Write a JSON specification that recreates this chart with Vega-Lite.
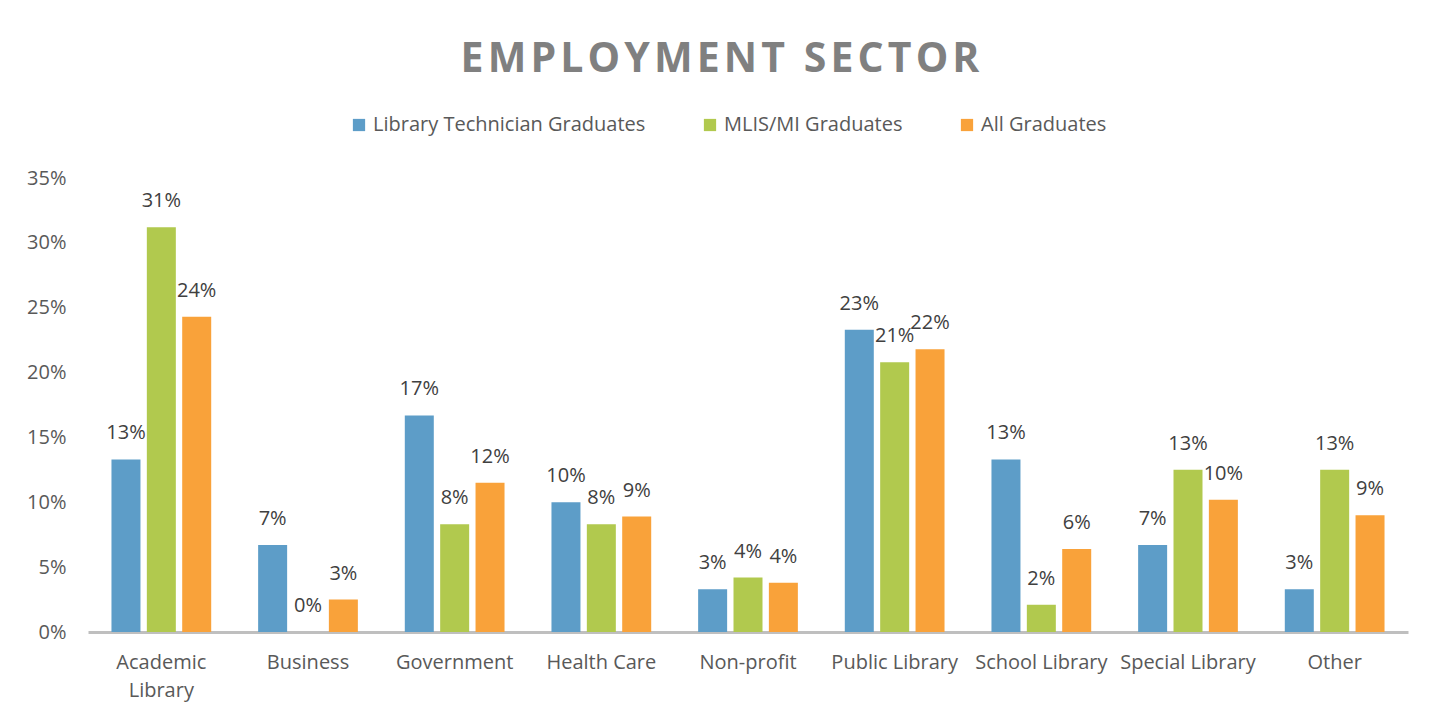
{
  "$schema": "https://vega.github.io/schema/vega-lite/v6.json",
  "autosize": "none",
  "width": 1320,
  "height": 454,
  "padding": {"left": 88, "top": 178, "right": 35, "bottom": 89},
  "background": "white",
  "title": {
    "text": "E\u200aM\u200aP\u200aL\u200aO\u200aY\u200aM\u200aE\u200aN\u200aT\u200a \u200aS\u200aE\u200aC\u200aT\u200aO\u200aR",
    "font": "Open Sans",
    "fontSize": 41,
    "fontWeight": "bold",
    "color": "#808080",
    "anchor": "middle",
    "offset": 34,
    "dx": -28
  },
  "data": {
    "values": [
      {"sector": "Academic Library", "group": "Library Technician Graduates", "value": 0.133},
      {"sector": "Academic Library", "group": "MLIS/MI Graduates", "value": 0.312},
      {"sector": "Academic Library", "group": "All Graduates", "value": 0.243},
      {"sector": "Business", "group": "Library Technician Graduates", "value": 0.067},
      {"sector": "Business", "group": "MLIS/MI Graduates", "value": 0.0},
      {"sector": "Business", "group": "All Graduates", "value": 0.025},
      {"sector": "Government", "group": "Library Technician Graduates", "value": 0.167},
      {"sector": "Government", "group": "MLIS/MI Graduates", "value": 0.083},
      {"sector": "Government", "group": "All Graduates", "value": 0.115},
      {"sector": "Health Care", "group": "Library Technician Graduates", "value": 0.1},
      {"sector": "Health Care", "group": "MLIS/MI Graduates", "value": 0.083},
      {"sector": "Health Care", "group": "All Graduates", "value": 0.089},
      {"sector": "Non-profit", "group": "Library Technician Graduates", "value": 0.033},
      {"sector": "Non-profit", "group": "MLIS/MI Graduates", "value": 0.042},
      {"sector": "Non-profit", "group": "All Graduates", "value": 0.038},
      {"sector": "Public Library", "group": "Library Technician Graduates", "value": 0.233},
      {"sector": "Public Library", "group": "MLIS/MI Graduates", "value": 0.208},
      {"sector": "Public Library", "group": "All Graduates", "value": 0.218},
      {"sector": "School Library", "group": "Library Technician Graduates", "value": 0.133},
      {"sector": "School Library", "group": "MLIS/MI Graduates", "value": 0.021},
      {"sector": "School Library", "group": "All Graduates", "value": 0.064},
      {"sector": "Special Library", "group": "Library Technician Graduates", "value": 0.067},
      {"sector": "Special Library", "group": "MLIS/MI Graduates", "value": 0.125},
      {"sector": "Special Library", "group": "All Graduates", "value": 0.102},
      {"sector": "Other", "group": "Library Technician Graduates", "value": 0.033},
      {"sector": "Other", "group": "MLIS/MI Graduates", "value": 0.125},
      {"sector": "Other", "group": "All Graduates", "value": 0.09}
    ]
  },
  "encoding": {
    "x": {
      "field": "sector",
      "type": "nominal",
      "sort": null,
      "scale": {"paddingInner": 0.32, "paddingOuter": 0.16},
      "axis": {
        "title": null,
        "labelAngle": 0,
        "labelFontSize": 20,
        "labelFont": "Open Sans",
        "labelColor": "#595959",
        "labelPadding": 20,
        "ticks": false,
        "domainColor": "#bfbfbf",
        "domainWidth": 3,
        "labelExpr": "datum.label == 'Academic Library' ? ['Academic', 'Library'] : datum.label",
        "labelLineHeight": 28
      }
    },
    "xOffset": {
      "field": "group",
      "type": "nominal",
      "sort": ["Library Technician Graduates", "MLIS/MI Graduates", "All Graduates"],
      "scale": {"paddingInner": 0.18, "paddingOuter": 0}
    },
    "y": {
      "field": "value",
      "type": "quantitative",
      "scale": {"domain": [0, 0.35]},
      "axis": {
        "title": null,
        "format": ".0%",
        "values": [0, 0.05, 0.1, 0.15, 0.2, 0.25, 0.3, 0.35],
        "grid": false,
        "domain": false,
        "ticks": false,
        "labelFontSize": 20,
        "labelFont": "Open Sans",
        "labelColor": "#595959",
        "labelPadding": 22
      }
    },
    "color": {
      "field": "group",
      "type": "nominal",
      "sort": ["Library Technician Graduates", "MLIS/MI Graduates", "All Graduates"],
      "scale": {
        "domain": ["Library Technician Graduates", "MLIS/MI Graduates", "All Graduates"],
        "range": ["#5d9dc8", "#b1c94e", "#f9a23a"]
      },
      "legend": {
        "title": null,
        "orient": "none",
        "legendX": 261,
        "legendY": -63,
        "direction": "horizontal",
        "labelFontSize": 20,
        "labelFont": "Open Sans",
        "labelColor": "#595959",
        "labelLimit": 0,
        "labelOffset": 4,
        "symbolType": "square",
        "symbolSize": 150,
        "symbolStrokeWidth": 0,
        "columnPadding": 54
      }
    }
  },
  "layer": [
    {"mark": {"type": "bar"}},
    {
      "mark": {"type": "text", "dy": -16, "fontSize": 20, "font": "Open Sans", "color": "#404040", "baseline": "bottom"},
      "encoding": {
        "text": {"field": "value", "type": "quantitative", "format": ".0%"},
        "color": {"value": "#404040"}
      }
    }
  ],
  "config": {"view": {"stroke": null}}
}
